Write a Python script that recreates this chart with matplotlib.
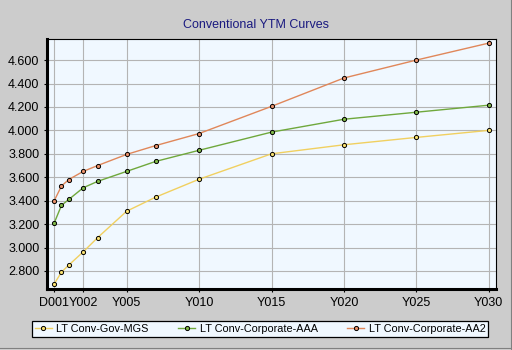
import numpy as np
import matplotlib
matplotlib.use('Agg')
from matplotlib import pyplot as plt
from matplotlib.lines import Line2D

plt.rcParams['font.family'] = ['Liberation Sans', 'DejaVu Sans']

# tenor in years, D001 is one day
tenor = [0, 0.5, 1, 2, 3, 5, 7, 10, 15, 20, 25, 30]
tick_pos = [0, 2, 5, 10, 15, 20, 25, 30]
tick_labels = ['D001', 'Y002', 'Y005', 'Y010', 'Y015', 'Y020', 'Y025', 'Y030']

gov_mgs = [2.690, 2.790, 2.850, 2.963, 3.085, 3.310, 3.430, 3.583, 3.800, 3.877, 3.940, 4.000]
corp_aaa = [3.210, 3.360, 3.410, 3.510, 3.565, 3.650, 3.735, 3.830, 3.985, 4.095, 4.155, 4.215]
corp_aa2 = [3.400, 3.525, 3.580, 3.650, 3.700, 3.795, 3.870, 3.973, 4.205, 4.447, 4.600, 4.745]

names = ['LT Conv-Gov-MGS', 'LT Conv-Corporate-AAA', 'LT Conv-Corporate-AA2']
line_cols = ['#f0d060', '#6fa83c', '#e0875a']
fill_cols = ['#f8e070', '#80b848', '#e8906a']

W, H = 512, 350
fig = plt.figure(figsize=(W / 100, H / 100), dpi=100, facecolor='#cccccc')
ax = fig.add_axes([47 / W, (H - 289) / H, (496 - 47) / W, (289 - 39) / H])
ax.set_facecolor('#f0f8ff')

for ys, name, lc, fc in zip([gov_mgs, corp_aaa, corp_aa2], names, line_cols, fill_cols):
  ax.plot(tenor, ys, '-', color=lc, lw=1.0, marker='o', ms=3.0,
          mfc=fc, mec='black', mew=0.7, label=name)

ax.set_xlim(-0.5, 30.5)
ax.set_ylim(2.646, 4.78)
ax.set_xticks(tick_pos)
ax.set_xticklabels(tick_labels)
ax.set_yticks(np.arange(2.8, 4.61, 0.2))
ax.yaxis.set_major_formatter(matplotlib.ticker.FormatStrFormatter('%.3f'))
ax.grid(True, color='#b4b4b4', lw=0.8)
ax.set_axisbelow(True)
ax.tick_params(direction='out', length=2.5, width=0.8, labelsize=9, pad=3)

for side in ['left', 'bottom']:
  ax.spines[side].set_linewidth(2.2)
for side in ['top', 'right']:
  ax.spines[side].set_linewidth(0.8)

fig.text(256 / W, 1 - 25 / H, 'Conventional YTM Curves', ha='center', va='center',
         fontsize=9, color='#1a1a80')

leg = fig.legend(loc='center', ncol=3, mode='expand',
                 bbox_to_anchor=(32 / W, (H - 337) / H, 456 / W, 16 / H),
                 fontsize=7.8, frameon=True, fancybox=False, borderpad=0.25,
                 handlelength=1.6, handletextpad=0.4, columnspacing=1.0,
                 borderaxespad=0)
leg.get_frame().set_facecolor('#f0f8ff')
leg.get_frame().set_edgecolor('black')
leg.get_frame().set_linewidth(0.9)
leg.get_frame().set_alpha(1)

# sunken border around the panel
fig.add_artist(Line2D([0, 1], [1 - 347.5 / H] * 2, color='#808080', lw=0.8, transform=fig.transFigure))
fig.add_artist(Line2D([510.5 / W] * 2, [0, 1], color='#808080', lw=0.8, transform=fig.transFigure))
fig.add_artist(Line2D([0, 1], [1 - 349.5 / H] * 2, color='white', lw=0.8, transform=fig.transFigure))

fig.savefig('out.png', dpi=100, facecolor=fig.get_facecolor())
